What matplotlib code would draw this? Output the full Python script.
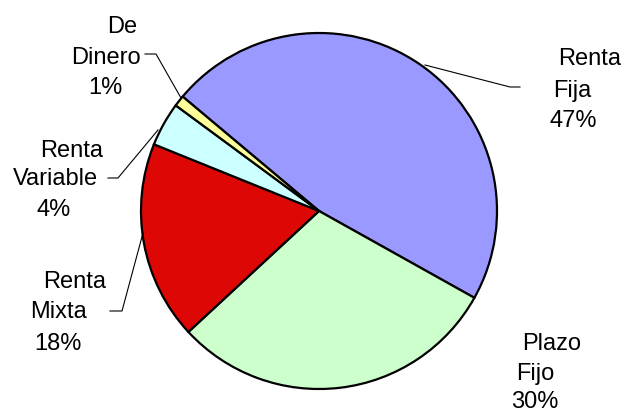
import matplotlib.pyplot as plt

# distribución de la cartera por tipo de fondo
names = ["Renta\nFija", "Plazo\nFijo", "Renta\nMixta", "Renta\nVariable", "De\nDinero"]
values = [47, 30, 18, 4, 1]
colors = ["#9999FF", "#CCFFCC", "#DD0806", "#CCFFFF", "#FFFF99"]

# posiciones de cada renglón de las etiquetas (x centro, y línea base), en píxeles
label_pos = [
    [(590, 65), (572, 97), (573, 127)],
    [(552, 350), (535, 380), (535, 408)],
    [(75, 288), (58, 318), (58, 350)],
    [(72, 157), (55, 185), (54, 216)],
    [(122, 33), (106, 64), (105, 94)],
]
# líneas guía: [x...], [y...]
leaders = {
    0: ([425, 510, 520], [65, 87, 87]),
    2: ([110, 122, 143], [311, 311, 233]),
    3: ([108, 118, 158], [178, 178, 130]),
    4: ([145, 156, 181], [54, 54, 98]),
}

W, H = 625, 413
fig = plt.figure(figsize=(W / 100, H / 100), dpi=100)
ax = fig.add_axes([0, 0, 1, 1])

ax.pie(values, colors=colors, startangle=140, counterclock=False,
       center=(319, H - 211), radius=178, frame=True,
       wedgeprops=dict(edgecolor="black", linewidth=1.6))
ax.set_xlim(0, W)
ax.set_ylim(0, H)
ax.axis("off")

for i, (name, v) in enumerate(zip(names, values)):
    lines = name.split("\n") + [f"{v}%"]
    for txt, (x, y) in zip(lines, label_pos[i]):
        ax.text(x, H - y, txt, ha="center", va="baseline", fontsize=17,
                family=["Liberation Sans", "DejaVu Sans"])

for i, (xs, ys) in leaders.items():
    ax.plot(xs, [H - y for y in ys], color="black", linewidth=0.8)

fig.savefig("out.png", dpi=100)
